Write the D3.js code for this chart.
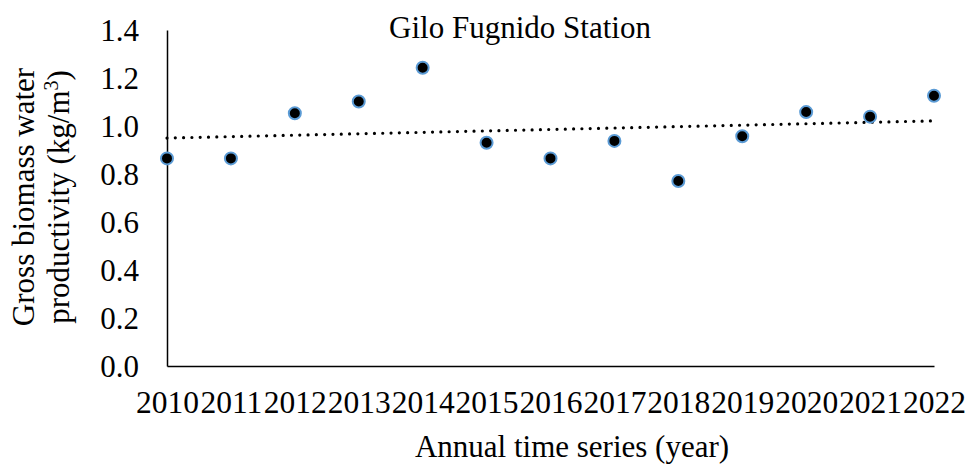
<!DOCTYPE html>
<html>
<head>
<meta charset="utf-8">
<script src="https://cdn.jsdelivr.net/npm/d3@7"></script>
<style>
  body { margin: 0; background: #fff; }
  svg text { font-family: "Liberation Serif", "Times New Roman", serif; fill: #000; }
</style>
</head>
<body>
<div id="chart"></div>
<script>
// data
const years = [2010, 2011, 2012, 2013, 2014, 2015, 2016, 2017, 2018, 2019, 2020, 2021, 2022];
const productivity = [0.865, 0.865, 1.053, 1.102, 1.243, 0.930, 0.865, 0.938, 0.771, 0.957, 1.058, 1.039, 1.126];
const yTicks = [0.0, 0.2, 0.4, 0.6, 0.8, 1.0, 1.2, 1.4];

const w = 969, h = 465;
const margin = { top: 30, right: 35, bottom: 99, left: 167 };

const svg = d3.select("#chart").append("svg")
    .attr("width", w)
    .attr("height", h);

// SCALES
const x = d3.scaleLinear()
    .domain([years[0], years[years.length - 1]])
    .range([margin.left, w - margin.right]);

const y = d3.scaleLinear()
    .domain([0, 1.4])
    .range([h - margin.bottom, margin.top]);

// AXES
const xAxis = svg.append("g")
    .attr("transform", "translate(0," + (h - margin.bottom) + ")")
    .call(d3.axisBottom(x).tickValues(years).tickFormat(d3.format("d")).tickSize(0));
xAxis.select(".domain").attr("stroke", "#000").attr("stroke-width", 1.5);
xAxis.selectAll("text").style("font-size", "31.5px").attr("dy", 0).attr("y", 47);

const yAxis = svg.append("g")
    .attr("transform", "translate(" + margin.left + ",0)")
    .call(d3.axisLeft(y).tickValues(yTicks).tickFormat(d3.format(".1f")).tickSize(0).tickPadding(28));
yAxis.select(".domain").attr("stroke", "#000").attr("stroke-width", 1.5);
yAxis.selectAll("text").style("font-size", "31px").attr("dy", "0.34em");

// linear trendline (least squares over the points)
const n = years.length;
const mx = d3.mean(years), my = d3.mean(productivity);
const slope = d3.sum(years, (d, i) => (d - mx) * (productivity[i] - my)) / d3.sum(years, d => (d - mx) * (d - mx));
const icpt = my - slope * mx;
const trend = [years[0], years[n - 1]].map(t => [t, icpt + slope * t]);

svg.append("path")
    .datum(trend)
    .attr("d", d3.line().x(d => x(d[0])).y(d => y(d[1])))
    .attr("fill", "none")
    .attr("stroke", "#000")
    .attr("stroke-width", 3.2)
    .attr("stroke-linecap", "round")
    .attr("stroke-dasharray", "0 8.3");

// POINTS
svg.selectAll(".dot")
    .data(years)
    .enter().append("circle")
    .attr("class", "dot")
    .attr("cx", d => x(d))
    .attr("cy", (d, i) => y(productivity[i]))
    .attr("r", 6)
    .attr("fill", "#000")
    .attr("stroke", "#5b9bd5")
    .attr("stroke-width", 2);

// TITLES
svg.append("text")
    .attr("x", 520).attr("y", 38)
    .attr("text-anchor", "middle")
    .style("font-size", "31px")
    .text("Gilo Fugnido Station");

svg.append("text")
    .attr("x", 572).attr("y", 457)
    .attr("text-anchor", "middle")
    .style("font-size", "31px")
    .text("Annual time series (year)");

const yLab = svg.append("text")
    .attr("transform", "translate(0,197) rotate(-90)")
    .attr("text-anchor", "middle")
    .style("font-size", "31px");
yLab.append("tspan").attr("x", 0).attr("y", 34).text("Gross biomass water");
const l2 = yLab.append("tspan").attr("x", 0).attr("y", 69);
l2.append("tspan").text("productivity (kg/m");
l2.append("tspan").attr("baseline-shift", "super").style("font-size", "20px").text("3");
l2.append("tspan").text(")");
</script>
</body>
</html>
